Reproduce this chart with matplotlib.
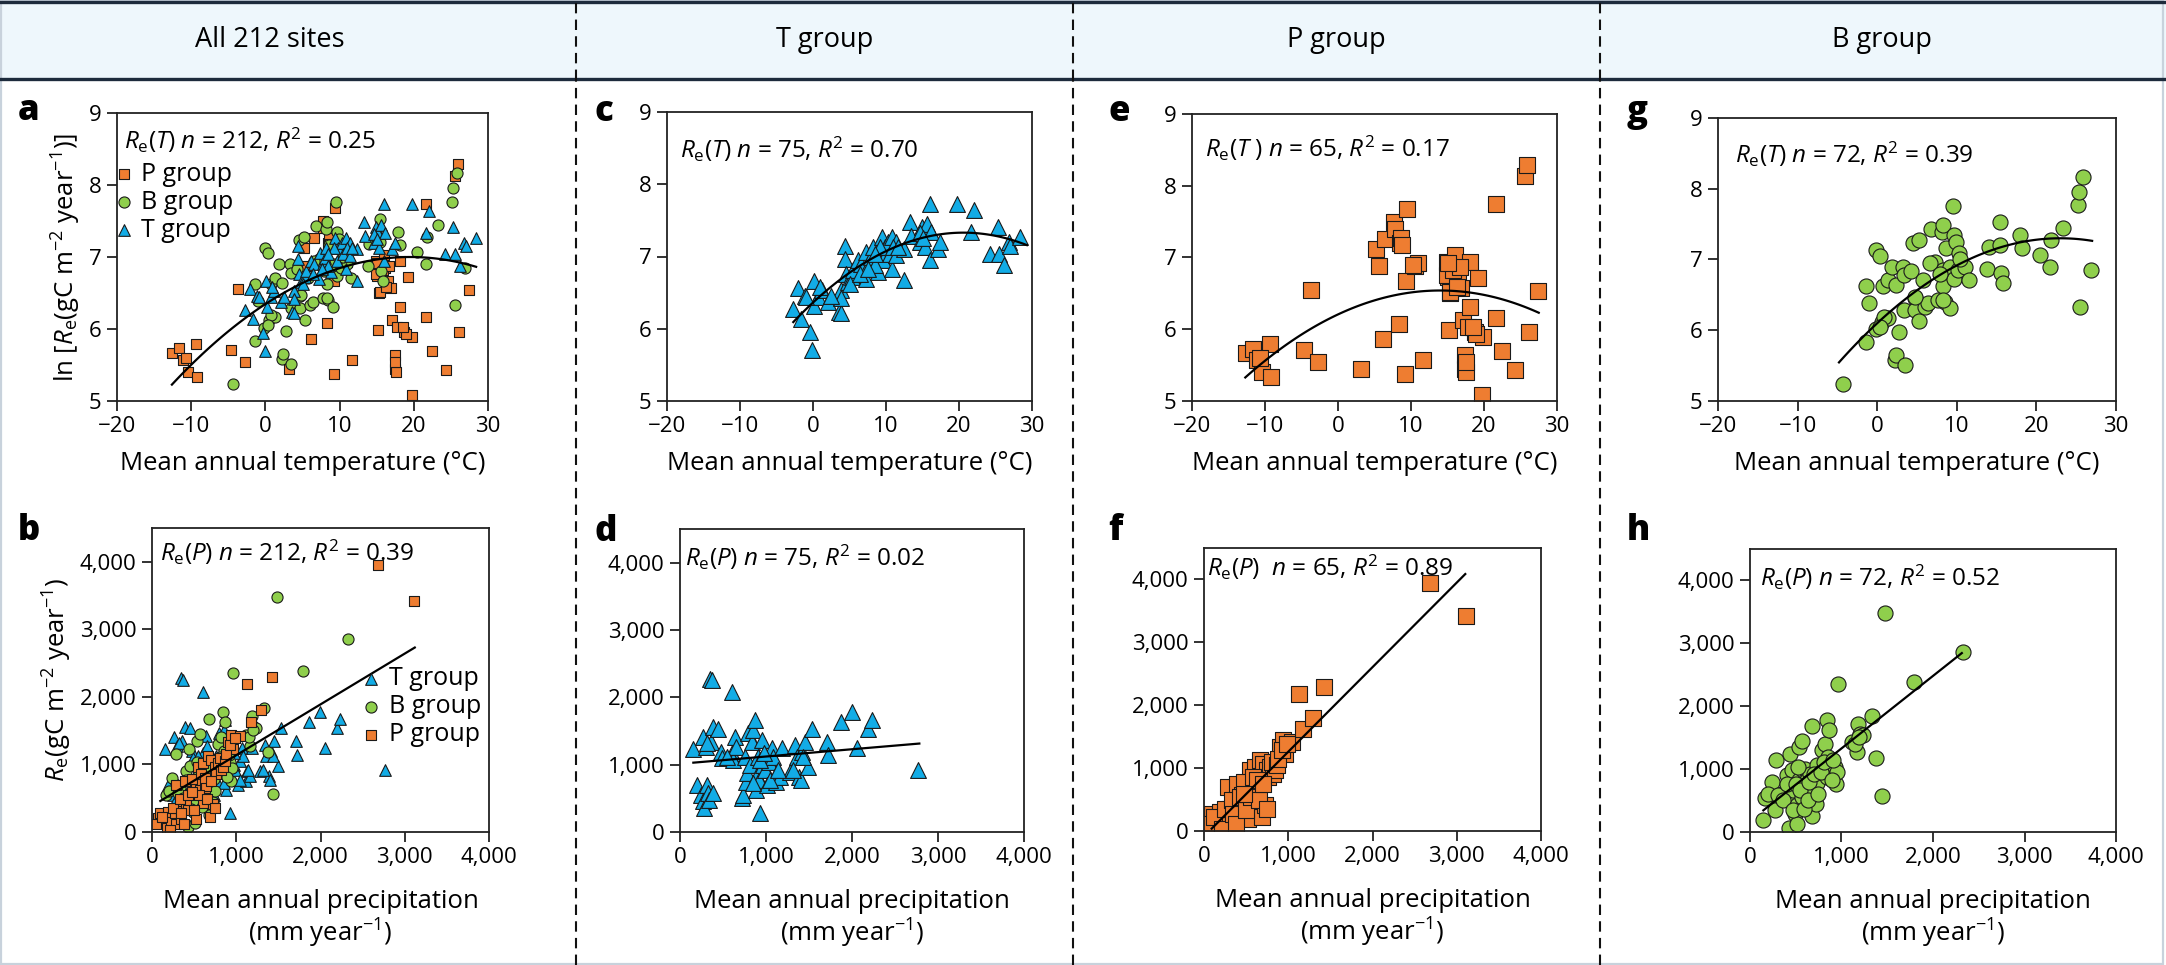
import numpy as np
import matplotlib
matplotlib.use("Agg")
import matplotlib.pyplot as plt
from matplotlib.lines import Line2D
from matplotlib.patches import Rectangle
from matplotlib.ticker import FuncFormatter

plt.rcParams['font.family'] = ['Open Sans', 'DejaVu Sans']
plt.rcParams['mathtext.fontset'] = 'custom'
plt.rcParams['mathtext.rm'] = 'Open Sans'
plt.rcParams['mathtext.it'] = 'Open Sans:italic'

# ---- data ----
# T group: temperature (C) vs ln Re
t_temp = [-2.8, -2.1, -1.7, -1.1, -0.35, -0.1, 0.1, 0.15, 0.7, 1.2, 2.1, 3.6, 3.9, 3.8, 3.9,
          4.4, 4.4, 4.5, 4.8, 5.3, 5.5, 6.2, 6.6, 7.2, 7.3, 7.7, 8.0, 8.2, 8.9, 9.4, 9.6, 9.8,
          10.3, 10.5, 10.8, 10.8, 11.4, 11.4, 12.4, 12.4, 13.3, 13.4, 14.6, 14.9, 15.2, 15.3,
          15.6, 16.0, 16.0, 16.1, 17.1, 19.7, 21.7, 22.1, 24.2, 25.3, 25.5, 26.2, 26.8, 27.0,
          28.4, 5.0, 6.4, 8.5, 9.2, 11.0, 14.6, 15.0, 8.5, 7.6, 11.7, 0.9, -0.9, 17.4, 2.5]
t_lnre = [6.27, 6.56, 6.14, 6.46, 5.95, 5.70, 6.66, 6.31, 6.44, 6.53, 6.37, 6.23, 6.22, 6.53, 6.42,
          7.15, 6.97, 6.76, 6.65, 6.72, 6.81, 6.95, 6.90, 6.69, 7.06, 6.90, 6.99, 7.13, 6.79, 7.27,
          6.95, 7.13, 7.20, 7.04, 6.83, 7.27, 7.02, 7.20, 7.11, 6.67, 7.48, 7.29, 7.20, 7.41, 7.34,
          7.13, 7.45, 7.73, 6.95, 7.34, 7.11, 7.73, 7.34, 7.64, 7.04, 7.41, 7.04, 6.88, 7.20, 7.15,
          7.27, 6.62, 6.76, 6.88, 7.13, 7.13, 7.32, 7.25, 7.04, 6.83, 7.13, 6.58, 6.44, 7.20, 6.45]

# P group
p_temp = [-12.6, -11.6, -11.1, -10.4, -9.3, -9.2, -4.6, -3.7, -2.7, 3.2, 5.2, 5.6, 6.2, 6.5,
          7.7, 7.8, 8.3, 8.5, 8.6, 9.2, 9.4, 9.3, 10.5, 11.0, 11.7, 14.9, 15.1, 15.2, 15.3, 15.6,
          16.0, 16.1, 16.5, 16.9, 17.1, 17.4, 17.4, 17.6, 17.8, 18.1, 18.1, 18.7, 19.2, 19.8,
          19.7, 21.6, 21.6, 22.4, 24.3, 25.6, 25.9, 26.1, 27.4, 14.9, 15.4, 15.8, 16.7, 17.5,
          18.9, 8.7, 10.3, -10.7, 16.3, 18.5, 15.1]
p_lnre = [5.67, 5.73, 5.57, 5.40, 5.79, 5.33, 5.71, 6.55, 5.54, 5.45, 7.12, 6.88, 5.86, 7.26,
          7.50, 7.40, 6.08, 7.20, 7.27, 5.38, 7.68, 6.67, 6.88, 6.93, 5.57, 6.94, 6.73, 5.99, 6.50,
          6.92, 7.03, 6.85, 6.66, 6.57, 6.13, 5.64, 5.45, 5.40, 6.03, 6.31, 6.94, 5.96, 6.72, 5.89,
          5.08, 7.74, 6.16, 5.69, 5.43, 8.13, 8.29, 5.96, 6.54, 6.76, 6.52, 6.82, 6.87, 5.54, 5.93,
          7.18, 6.89, 5.60, 6.59, 6.03, 6.92]

# B group
b_temp = [-4.3, -1.4, -1.4, -1.0, -0.2, -0.1, 0.3, 0.55, 0.7, 1.3, 1.3, 1.8, 2.3, 2.2, 2.4, 2.8,
          3.3, 3.4, 3.4, 3.5, 4.3, 4.5, 4.7, 4.7, 5.2, 5.3, 5.7, 6.0, 6.4, 6.8, 7.2, 7.7, 8.1, 8.3,
          8.3, 8.3, 8.5, 8.6, 9.1, 9.2, 9.5, 9.6, 9.7, 9.9, 10.2, 10.3, 11.0, 11.5, 13.8, 14.0, 15.4,
          15.4, 15.6, 15.8, 17.9, 18.2, 20.4, 21.7, 21.8, 23.3, 25.2, 25.3, 25.5, 25.8, 26.9, 0.8,
          6.6, 7.9, 8.3, 4.8, 0.3, 10.4]
b_lnre = [5.24, 5.84, 6.62, 6.39, 6.02, 7.13, 7.05, 6.12, 6.62, 6.71, 6.17, 6.90, 6.64, 5.58, 5.65,
          5.97, 6.90, 6.78, 6.29, 5.51, 6.84, 7.23, 6.46, 6.29, 7.28, 6.13, 6.71, 6.33, 6.38, 7.43,
          6.97, 6.43, 7.39, 7.49, 6.85, 6.62, 6.40, 7.16, 6.31, 6.90, 7.76, 7.35, 6.73, 7.25, 6.85,
          7.09, 6.90, 6.71, 6.87, 7.18, 7.53, 7.21, 6.81, 6.67, 7.35, 7.16, 7.07, 6.90, 7.28, 7.45,
          7.77, 7.96, 6.33, 8.16, 6.85, 6.19, 6.95, 6.80, 6.43, 6.47, 6.05, 7.00]

# T group: precipitation (mm/yr) vs Re (gC/m2/yr)
t_prec = [155, 194, 244, 264, 271, 279, 298, 310, 329, 341, 349, 357, 380, 388, 446, 477, 484,
          601, 601, 620, 640, 651, 717, 736, 756, 767, 775, 794, 814, 833, 853, 872, 884, 899,
          911, 922, 930, 950, 969, 988, 1016, 1039, 1066, 1085, 1116, 1132, 1163, 1182, 1279,
          1337, 1357, 1388, 1403, 1415, 1453, 1492, 1531, 1705, 1717, 1868, 1996, 2054, 2190,
          2236, 2771, 318, 368, 543, 930, 977, 1047, 1143, 1318, 1434, 853]
t_re = [1227, 700, 552, 1404, 453, 355, 1266, 700, 576, 478, 2276, 1340, 576, 1552, 1537, 1192,
        1094, 1167, 2079, 1069, 1414, 1266, 502, 552, 1118, 749, 872, 1463, 995, 1340, 1512, 1660,
        626, 847, 1118, 773, 281, 1364, 995, 921, 700, 1044, 1241, 1118, 749, 897, 823, 1241, 897,
        1291, 1118, 823, 773, 1192, 1340, 970, 1537, 1340, 1143, 1635, 1783, 1241, 1537, 1670, 921,
        1315, 2251, 1118, 1069, 1167, 773, 921, 921, 1118, 724]

p_prec = [71, 91, 150, 182, 190, 230, 269, 289, 289, 309, 341, 368, 388, 408, 428, 448, 527, 527,
          547, 566, 606, 606, 626, 646, 665, 685, 705, 725, 745, 764, 784, 816, 844, 903, 935, 962,
          1042, 1133, 1172, 1291, 1430, 2685, 3109, 51, 119, 210, 250, 329, 349, 380, 428, 475,
          499, 555, 578, 634, 657, 705, 745, 804, 863, 883, 923, 982, 475]
p_re = [212, 276, 170, 64, 302, 143, 276, 700, 117, 355, 196, 462, 753, 435, 329, 568, 727, 196,
        966, 621, 1019, 435, 647, 674, 1125, 223, 1072, 408, 966, 859, 1019, 912, 966, 1337, 1443,
        1231, 1416, 2186, 1629, 1804, 2292, 3947, 3416, 117, 223, 37, 355, 488, 276, 117, 541, 780,
        329, 541, 859, 806, 488, 753, 355, 1098, 1045, 1151, 1284, 1390, 594]

b_prec = [146, 164, 237, 273, 284, 346, 401, 438, 430, 438, 456, 474, 492, 510, 510, 540, 565,
          540, 565, 583, 602, 620, 620, 656, 675, 675, 693, 722, 729, 737, 784, 802, 820, 839, 846,
          857, 868, 875, 930, 941, 948, 966, 1112, 1167, 1185, 1203, 1240, 1331, 1378, 1440, 1480,
          1794, 2323, 201, 310, 365, 408, 467, 503, 529, 547, 591, 638, 649, 700, 748, 773, 810,
          894, 912, 1149, 1196]
b_re = [196, 546, 795, 344, 1150, 609, 901, 1234, 69, 530, 980, 662, 291, 132, 424, 1351, 1446,
        821, 556, 980, 1007, 636, 821, 927, 249, 1679, 609, 450, 1060, 779, 1298, 980, 1404, 1775,
        874, 1192, 1626, 980, 1033, 758, 954, 2347, 1430, 1272, 1722, 1563, 1536, 1838, 1181, 567,
        3481, 2379, 2861, 609, 583, 503, 768, 344, 768, 1033, 662, 371, 503, 795, 927, 609, 954,
        1113, 821, 1139, 1404, 1510]

# quadratic fits: [peak ln Re, temperature at peak, curvature, x start, x end]
curve_all = [7.00, 19.5, 0.00172, -12.6, 28.4]
curve_t = [7.33, 20.6, 0.00228, -2.7, 29.3]
curve_p = [6.54, 14.0, 0.00170, -12.7, 27.5]
curve_b = [7.30, 23.0, 0.00227, -4.8, 27.0]
# linear fits: [slope, intercept, x start, x end]
line_all = [0.752, 385, 99, 3119]
line_t = [0.108, 1013, 155, 2783]
line_p = [1.345, -85, 91, 3101]
line_b = [1.153, 176, 146, 2315]

col_titles = ["All 212 sites", "T group", "P group", "B group"]

C_T = '#12ace6'
C_P = '#ee7d31'
C_B = '#8fcf4c'

W, H = 2166, 965
fig = plt.figure(figsize=(W / 100, H / 100), dpi=100)

FS_TICK = 16
FS_LAB = 18.5
FS_TXT = 17.5
FS_LEG = 18


def px_axes(l, t, r, b):
    return fig.add_axes([l / W, 1 - b / H, (r - l) / W, (b - t) / H])


def style_axes(ax, top=True):
    for s in ax.spines.values():
        s.set_linewidth(1.3)
        s.set_color('#222222')
    ax.tick_params(direction='out', length=7, width=1.3, labelsize=FS_TICK, pad=4,
                   top=False, right=False, color='#222222')
    if top:
        ax.set_xlim(-20, 30)
        ax.set_ylim(5, 9)
        ax.set_xticks([-20, -10, 0, 10, 20, 30])
        ax.set_yticks([5, 6, 7, 8, 9])
        ax.set_xlabel('Mean annual temperature (°C)', fontsize=FS_LAB, labelpad=10)
    else:
        ax.set_xlim(0, 4000)
        ax.set_ylim(0, 4500)
        ax.set_xticks([0, 1000, 2000, 3000, 4000])
        ax.set_yticks([0, 1000, 2000, 3000, 4000])
        fmt = FuncFormatter(lambda v, p: f'{int(v):,}')
        ax.xaxis.set_major_formatter(fmt)
        ax.yaxis.set_major_formatter(fmt)
        ax.set_xlabel('Mean annual precipitation\n(mm year$^{-1}$)', fontsize=FS_LAB,
                      labelpad=15, linespacing=1.12)


def draw_curve(ax, c):
    xs = np.linspace(c[3], c[4], 100)
    ax.plot(xs, c[0] - c[2] * (xs - c[1]) ** 2, color='k', lw=1.6, zorder=5)


def draw_line(ax, c):
    xs = np.array([c[2], c[3]])
    ax.plot(xs, c[0] * xs + c[1], color='k', lw=1.6, zorder=5)


big = 118
small = 64
ek = dict(edgecolors='#1a1a1a', linewidths=0.8)
leg_kw = dict(loc='upper left', frameon=False, fontsize=FS_LEG, handlelength=0.7,
              handletextpad=0.35, labelspacing=0.12, borderpad=0, borderaxespad=0)

# panel a
ax = px_axes(117, 113, 488, 401)
style_axes(ax)
ax.scatter(p_temp, p_lnre, s=small * 0.95, marker='s', color=C_P, label='P group', **ek)
ax.scatter(b_temp, b_lnre, s=small, marker='o', color=C_B, label='B group', **ek)
ax.scatter(t_temp, t_lnre, s=small * 1.1, marker='^', color=C_T, label='T group', **ek)
draw_curve(ax, curve_all)
ax.set_ylabel('ln [$R_\\mathrm{e}$(gC m$^{-2}$ year$^{-1}$)]', fontsize=FS_LAB, labelpad=4)
ax.text(0.02, 0.905, '$R_\\mathrm{e}$($T$) $n$ = 212, $R^2$ = 0.25', transform=ax.transAxes,
        fontsize=FS_TXT, va='center')
ax.legend(bbox_to_anchor=(-0.005, 0.83), **leg_kw)

# panel b
ax = px_axes(152, 528, 489, 832)
style_axes(ax, top=False)
ax.scatter(t_prec, t_re, s=small * 1.1, marker='^', color=C_T, label='T group', **ek)
ax.scatter(b_prec, b_re, s=small, marker='o', color=C_B, label='B group', **ek)
ax.scatter(p_prec, p_re, s=small * 0.95, marker='s', color=C_P, label='P group', **ek)
draw_line(ax, line_all)
ax.set_ylabel('$R_\\mathrm{e}$(gC m$^{-2}$ year$^{-1}$)', fontsize=FS_LAB, labelpad=4)
ax.text(0.024, 0.92, '$R_\\mathrm{e}$($P$) $n$ = 212, $R^2$ = 0.39', transform=ax.transAxes,
        fontsize=FS_TXT, va='center')
ax.legend(bbox_to_anchor=(0.625, 0.545), **leg_kw)

# panel c
ax = px_axes(667, 112, 1032, 401)
style_axes(ax)
ax.scatter(t_temp, t_lnre, s=big * 1.1, marker='^', color=C_T, **ek)
draw_curve(ax, curve_t)
ax.text(0.036, 0.87, '$R_\\mathrm{e}$($T$) $n$ = 75, $R^2$ = 0.70', transform=ax.transAxes,
        fontsize=FS_TXT, va='center')

# panel d
ax = px_axes(680, 529, 1024, 832)
style_axes(ax, top=False)
ax.scatter(t_prec, t_re, s=big * 1.1, marker='^', color=C_T, **ek)
draw_line(ax, line_t)
ax.text(0.015, 0.905, '$R_\\mathrm{e}$($P$) $n$ = 75, $R^2$ = 0.02', transform=ax.transAxes,
        fontsize=FS_TXT, va='center')

# panel e
ax = px_axes(1192, 114, 1557, 401)
style_axes(ax)
ax.scatter(p_temp, p_lnre, s=big, marker='s', color=C_P, **ek)
draw_curve(ax, curve_p)
ax.text(0.036, 0.88, '$R_\\mathrm{e}$($T$ ) $n$ = 65, $R^2$ = 0.17', transform=ax.transAxes,
        fontsize=FS_TXT, va='center')

# panel f
ax = px_axes(1204, 548, 1541, 831)
style_axes(ax, top=False)
ax.scatter(p_prec, p_re, s=big, marker='s', color=C_P, **ek)
draw_line(ax, line_p)
ax.text(0.01, 0.93, '$R_\\mathrm{e}$($P$)  $n$ = 65, $R^2$ = 0.89', transform=ax.transAxes,
        fontsize=FS_TXT, va='center', zorder=1)

# panel g
ax = px_axes(1718, 118, 2116, 401)
style_axes(ax)
ax.scatter(b_temp, b_lnre, s=big, marker='o', color=C_B, **ek)
draw_curve(ax, curve_b)
ax.text(0.043, 0.87, '$R_\\mathrm{e}$($T$) $n$ = 72, $R^2$ = 0.39', transform=ax.transAxes,
        fontsize=FS_TXT, va='center')

# panel h
ax = px_axes(1750, 549, 2116, 832)
style_axes(ax, top=False)
ax.scatter(b_prec, b_re, s=big, marker='o', color=C_B, **ek)
draw_line(ax, line_b)
ax.text(0.027, 0.90, '$R_\\mathrm{e}$($P$) $n$ = 72, $R^2$ = 0.52', transform=ax.transAxes,
        fontsize=FS_TXT, va='center')

# panel letters
letters = [('a', 18, 120), ('b', 18, 540), ('c', 594, 121), ('d', 594, 541),
           ('e', 1108, 121), ('f', 1108, 540), ('g', 1627, 121), ('h', 1627, 540)]
for lt, x, y in letters:
    fig.text(x / W, 1 - y / H, lt, fontsize=25, fontweight='heavy', va='baseline', ha='left')

# header band
fig.add_artist(Rectangle((0, 1 - 80 / H), 1, 80 / H, transform=fig.transFigure,
                         facecolor='#eef7fc', edgecolor='none', zorder=-5))
for yy in [1 - 1.5 / H, 1 - 79 / H]:
    fig.add_artist(Line2D([0, 1], [yy, yy], transform=fig.transFigure, color='#1d2b3c', lw=2.4))
centers = [270, 825, 1336, 1882]
for t, cx in zip(col_titles, centers):
    fig.text(cx / W, 1 - 40 / H, t, fontsize=19.5, ha='center', va='center')

# dashed separators
for sx in [576, 1073, 1600]:
    fig.add_artist(Line2D([sx / W, sx / W], [0, 1 - 80 / H], transform=fig.transFigure,
                          color='#111111', lw=1.5, ls=(0, (5, 3))))
    fig.add_artist(Line2D([sx / W, sx / W], [1 - 80 / H, 1], transform=fig.transFigure,
                          color='#111111', lw=1.5, ls=(0, (5, 3))))

# light outer frame
fig.add_artist(Rectangle((1 / W, 1 / H), 1 - 4 / W, 1 - 2 / H, transform=fig.transFigure,
                         facecolor='none', edgecolor='#c8d2dc', lw=1.6, zorder=-4))

fig.savefig('out.png', dpi=100)
